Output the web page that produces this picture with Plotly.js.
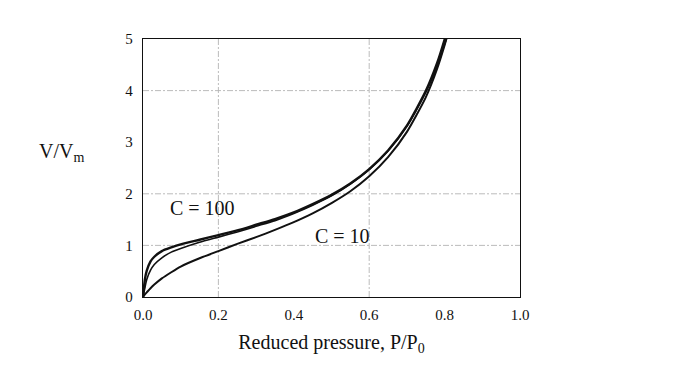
<!DOCTYPE html>
<html>
<head>
<meta charset="utf-8">
<script src="https://cdn.plot.ly/plotly-3.0.1.min.js"></script>
<style>html,body{margin:0;padding:0;background:#fff;}#chart{width:696px;height:365px;}</style>
</head>
<body>
<div id="chart"></div>
<script>
// Reduced pressure values (P/P0)
var pressure = [0, 0.005, 0.01, 0.02, 0.03, 0.05, 0.075, 0.1, 0.15, 0.2, 0.25, 0.3, 0.35, 0.4, 0.45, 0.5, 0.55, 0.6, 0.65, 0.7, 0.75, 0.78, 0.8, 0.805];
// V/Vm
var c100 = [0, 0.34, 0.51, 0.69, 0.78, 0.89, 0.96, 1.02, 1.11, 1.20, 1.29, 1.40, 1.51, 1.64, 1.80, 1.98, 2.20, 2.48, 2.84, 3.32, 3.99, 4.53, 4.99, 5.12];
var c50  = [0, 0.18, 0.34, 0.52, 0.63, 0.76, 0.87, 0.94, 1.06, 1.16, 1.26, 1.37, 1.48, 1.62, 1.78, 1.96, 2.19, 2.47, 2.83, 3.31, 3.97, 4.46, 4.90, 5.00];
var c10  = [0, 0.05, 0.09, 0.17, 0.24, 0.36, 0.48, 0.59, 0.75, 0.89, 1.03, 1.16, 1.30, 1.45, 1.62, 1.82, 2.05, 2.34, 2.71, 3.20, 3.87, 4.42, 4.88, 5.01];
var xTicks = [0, 0.2, 0.4, 0.6, 0.8, 1.0];
var xTickText = ['0.0', '0.2', '0.4', '0.6', '0.8', '1.0'];
var yTicks = [0, 1, 2, 3, 4, 5];
var gridX = [0.2, 0.6];
var gridY = [1, 2, 4];
var labels = [{text: 'C = 100', x: 0.158, y: 1.72}, {text: 'C = 10', x: 0.53, y: 1.18}];

var serif = 'Liberation Serif, Times New Roman, serif';
function trace(y, w) {
  return {x: pressure, y: y, type: 'scatter', mode: 'lines',
          line: {color: '#111', width: w, shape: 'spline', smoothing: 0.6},
          hoverinfo: 'skip', showlegend: false, cliponaxis: true};
}
var data = [trace(c10, 2), trace(c50, 1.6), trace(c100, 2.4)];

var shapes = [];
gridX.forEach(function (g) {
  shapes.push({type: 'line', xref: 'x', yref: 'paper', x0: g, x1: g, y0: 0, y1: 1,
               line: {color: '#b4b4b4', width: 0.9, dash: '6px,2px,2px,2px'}, layer: 'below'});
});
gridY.forEach(function (g) {
  shapes.push({type: 'line', xref: 'paper', yref: 'y', x0: 0, x1: 1, y0: g, y1: g,
               line: {color: '#b4b4b4', width: 0.9, dash: '6px,2px,2px,2px'}, layer: 'below'});
});

var annotations = labels.map(function (l) {
  return {text: l.text, x: l.x, y: l.y, xref: 'x', yref: 'y', showarrow: false,
          font: {family: serif, size: 20, color: '#111'}};
});
annotations.push({text: 'V/V<sub>m</sub>', xref: 'paper', yref: 'paper', x: -0.215, y: 0.56,
                  xanchor: 'center', yanchor: 'middle',
                  showarrow: false, font: {family: serif, size: 20, color: '#111'}});

var layout = {
  width: 696, height: 365,
  margin: {l: 143, r: 176, t: 39, b: 68},
  paper_bgcolor: '#fff', plot_bgcolor: '#fff',
  font: {family: serif, color: '#111'},
  xaxis: {range: [0, 1], tickvals: xTicks, ticktext: xTickText, showgrid: false, zeroline: false,
          showline: true, mirror: true, linecolor: '#111', linewidth: 1.2,
          ticks: '', ticklabelstandoff: 4,
          tickfont: {family: serif, size: 15, color: '#111'},
          title: {text: 'Reduced pressure, P/P<sub>0</sub>', font: {family: serif, size: 20, color: '#111'}, standoff: 12}},
  yaxis: {range: [0, 5], tickvals: yTicks, showgrid: false, zeroline: false,
          showline: true, mirror: true, linecolor: '#111', linewidth: 1.2,
          ticks: '', ticklabelstandoff: 6,
          tickfont: {family: serif, size: 15, color: '#111'}},
  shapes: shapes,
  annotations: annotations
};
Plotly.newPlot('chart', data, layout, {staticPlot: true});
</script>
</body>
</html>
